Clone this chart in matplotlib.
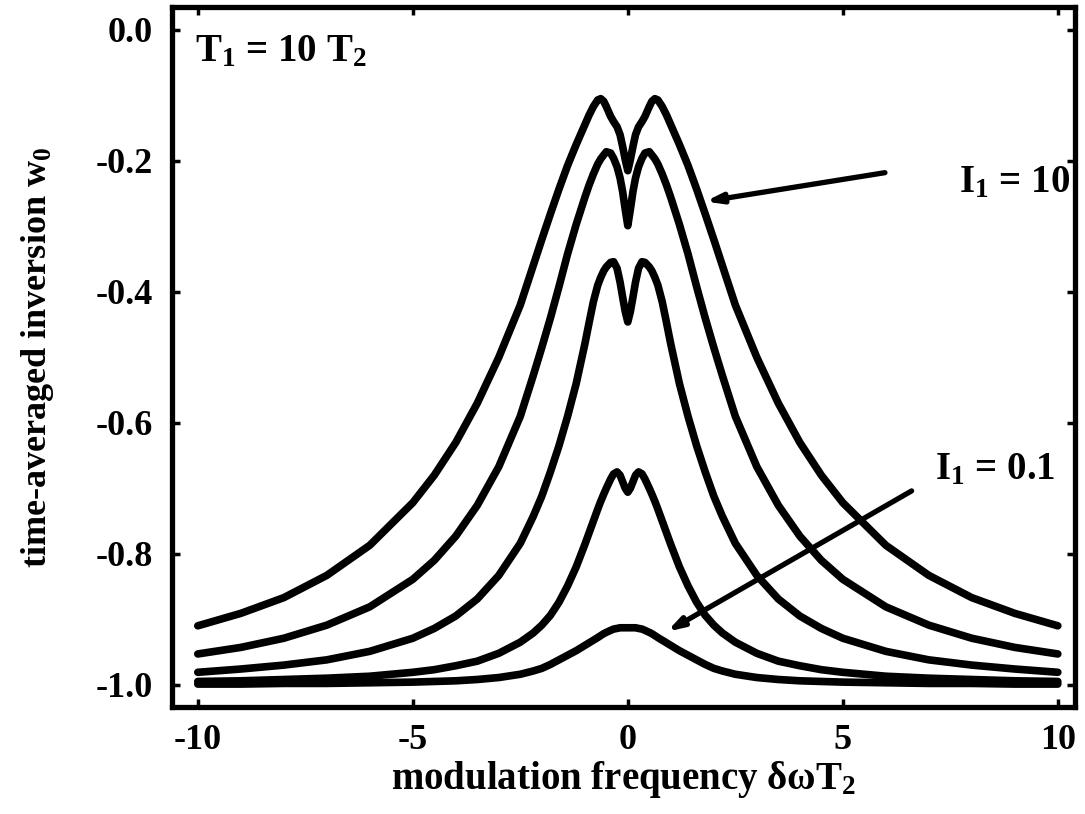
import matplotlib
matplotlib.use('Agg')
import matplotlib.pyplot as plt

# modulation frequency (delta omega T2), shared by all curves
freq = [-10, -9, -8, -7, -6, -5, -4.5, -4, -3.5, -3, -2.5, -2.2, -2, -1.8, -1.6, -1.4,
        -1.2, -1.0, -0.9, -0.8, -0.7, -0.63, -0.56, -0.5, -0.4, -0.33, -0.25, -0.18,
        -0.12, -0.06, 0, 0.06, 0.12, 0.18, 0.25, 0.33, 0.4, 0.5, 0.56, 0.63, 0.7, 0.8,
        0.9, 1.0, 1.2, 1.4, 1.6, 1.8, 2, 2.2, 2.5, 3, 3.5, 4, 4.5, 5, 6, 7, 8, 9, 10]

# time-averaged inversion w0 (top curve first)
w_i10 = [-0.910, -0.891, -0.867, -0.833, -0.787, -0.722, -0.680, -0.630, -0.570, -0.500,
         -0.420, -0.360, -0.320, -0.281, -0.243, -0.207, -0.175, -0.145, -0.130, -0.117,
         -0.107, -0.105, -0.109, -0.117, -0.132, -0.140, -0.148, -0.160, -0.178, -0.198,
         -0.215,
         -0.198, -0.178, -0.160, -0.148, -0.140, -0.132, -0.117, -0.109, -0.105, -0.107,
         -0.117, -0.130, -0.145, -0.175, -0.207, -0.243, -0.281, -0.320, -0.360, -0.420,
         -0.500, -0.570, -0.630, -0.680, -0.722, -0.787, -0.833, -0.867, -0.891, -0.910]
w_i5 = [-0.953, -0.943, -0.929, -0.909, -0.881, -0.839, -0.810, -0.773, -0.726, -0.667,
        -0.590, -0.528, -0.485, -0.440, -0.392, -0.342, -0.297, -0.256, -0.237, -0.220,
        -0.205, -0.197, -0.191, -0.186, -0.188, -0.196, -0.209, -0.226, -0.247, -0.274,
        -0.299,
        -0.274, -0.247, -0.226, -0.209, -0.196, -0.188, -0.186, -0.191, -0.197, -0.205,
        -0.220, -0.237, -0.256, -0.297, -0.342, -0.392, -0.440, -0.485, -0.528, -0.590,
        -0.667, -0.726, -0.773, -0.810, -0.839, -0.881, -0.909, -0.929, -0.943, -0.953]
w_i2 = [-0.981, -0.976, -0.970, -0.962, -0.949, -0.929, -0.914, -0.895, -0.869, -0.833,
        -0.784, -0.743, -0.712, -0.675, -0.635, -0.590, -0.540, -0.480, -0.447, -0.415,
        -0.390, -0.378, -0.368, -0.362, -0.355, -0.354, -0.364, -0.385, -0.408, -0.430,
        -0.446,
        -0.430, -0.408, -0.385, -0.364, -0.354, -0.355, -0.362, -0.368, -0.378, -0.390,
        -0.415, -0.447, -0.480, -0.540, -0.590, -0.635, -0.675, -0.712, -0.743, -0.784,
        -0.833, -0.869, -0.895, -0.914, -0.929, -0.949, -0.962, -0.970, -0.976, -0.981]
w_i05 = [-0.995, -0.994, -0.992, -0.990, -0.987, -0.981, -0.977, -0.971, -0.964, -0.952,
         -0.935, -0.921, -0.909, -0.894, -0.874, -0.849, -0.820, -0.786, -0.768, -0.750,
         -0.732, -0.720, -0.709, -0.700, -0.686, -0.678, -0.675, -0.680, -0.690, -0.700,
         -0.706,
         -0.700, -0.690, -0.680, -0.675, -0.678, -0.686, -0.700, -0.709, -0.720, -0.732,
         -0.750, -0.768, -0.786, -0.820, -0.849, -0.874, -0.894, -0.909, -0.921, -0.935,
         -0.952, -0.964, -0.971, -0.977, -0.981, -0.987, -0.990, -0.992, -0.994, -0.995]
w_i01 = [-0.999, -0.999, -0.998, -0.998, -0.997, -0.996, -0.995, -0.994, -0.992, -0.989,
         -0.984, -0.979, -0.975, -0.969, -0.962, -0.955, -0.948, -0.940, -0.936, -0.932,
         -0.928, -0.925, -0.922, -0.920, -0.917, -0.915, -0.914, -0.913, -0.913, -0.913,
         -0.913,
         -0.913, -0.913, -0.913, -0.914, -0.915, -0.917, -0.920, -0.922, -0.925, -0.928,
         -0.932, -0.936, -0.940, -0.948, -0.955, -0.962, -0.969, -0.975, -0.979, -0.984,
         -0.989, -0.992, -0.994, -0.995, -0.996, -0.997, -0.998, -0.998, -0.999, -0.999]

curves = [w_i10, w_i5, w_i2, w_i05, w_i01]

yticks = [0.0, -0.2, -0.4, -0.6, -0.8, -1.0]
xticks = [-10, -5, 0, 5, 10]

plt.rcParams['font.family'] = ['Liberation Serif', 'DejaVu Serif']
plt.rcParams['font.weight'] = 'bold'
plt.rcParams['axes.labelweight'] = 'bold'
plt.rcParams['mathtext.fontset'] = 'custom'
plt.rcParams['mathtext.rm'] = 'Liberation Serif:bold'
plt.rcParams['mathtext.it'] = 'Liberation Serif:bold'
plt.rcParams['mathtext.bf'] = 'Liberation Serif:bold'

fig = plt.figure(figsize=(10.85, 8.14), dpi=100)
ax = fig.add_axes([172 / 1085, 1 - 707 / 814, (1075 - 172) / 1085, (707 - 7) / 814])

for w in curves:
    ax.plot(freq, w, color='black', linewidth=5.5, solid_capstyle='round',
            solid_joinstyle='round')

ax.set_xlim(-10.6, 10.4)
ax.set_ylim(-1.034, 0.035)
ax.set_xticks(xticks)
ax.set_xticklabels([f'{t:d}' for t in xticks])
ax.set_yticks(yticks)
ax.set_yticklabels([f'{t:.1f}' for t in yticks])
ax.tick_params(direction='in', length=6, width=2.5, labelsize=26, pad=14,
               top=True, right=True)
ax.tick_params(axis='x', pad=12)
for s in ax.spines.values():
    s.set_linewidth(3.8)

ax.set_xlabel(r'modulation frequency $\delta\omega$T$_2$', fontsize=28)
ax.xaxis.set_label_coords(0.5, -0.075)
ax.set_ylabel(r'time-averaged inversion w$_0$', fontsize=26)
ax.yaxis.set_label_coords(-0.128, 0.5)

ax.text(0.025, 0.963, r'T$_1$ = 10 T$_2$', transform=ax.transAxes, fontsize=28,
        va='top', ha='left')

# labels with arrows pointing at the outermost and innermost curves
arrow = dict(arrowstyle='-|>,head_length=0.9,head_width=0.28', color='black', lw=3.8,
             shrinkA=0, shrinkB=0)
ax.annotate('', xy=(1.80, -0.262), xytext=(5.98, -0.218), arrowprops=arrow)
ax.text(7.7, -0.234, r'I$_1$ = 10', fontsize=28, va='center', ha='left')
ax.annotate('', xy=(0.91, -0.919), xytext=(6.6, -0.704), arrowprops=arrow)
ax.text(7.15, -0.672, r'I$_1$ = 0.1', fontsize=28, va='center', ha='left')

fig.savefig('out.png', dpi=100)
